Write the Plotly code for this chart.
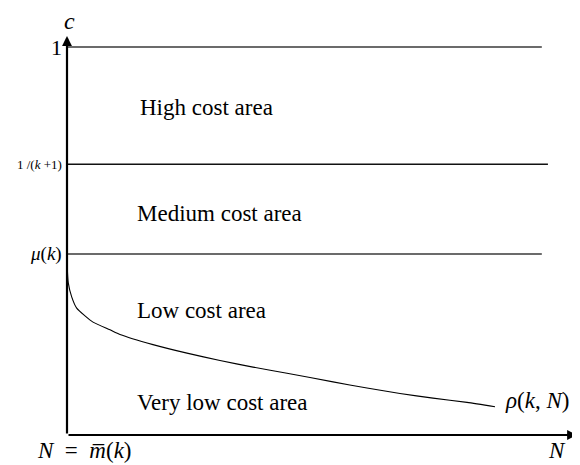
import plotly.graph_objects as go

# ---- data ----
curve_N = [0, 0.025, 0.092, 0.19, 0.353, 0.51, 0.843, 1.039, 1.686, 2.353, 3.0, 3.647,
           4.314, 5.216, 5.882, 6.529, 7.176, 7.843, 8.392]
curve_c = [0.446, 0.392, 0.356, 0.327, 0.307, 0.291, 0.271, 0.259, 0.233, 0.211, 0.192, 0.175,
           0.159, 0.137, 0.121, 0.107, 0.095, 0.084, 0.073]

level_values = [1.0, 0.698, 0.4665]
level_ends = [9.31, 9.43, 9.31]
level_colors = ["#3a3a3a", "#111111", "#3a3a3a"]
level_labels = ["1", "1 /(<i>k</i> +1)", "<i>μ</i>(<i>k</i>)"]
level_label_sizes = [22, 13, 19]

area_labels = ["High cost area", "Medium cost area", "Low cost area", "Very low cost area"]
area_x = [1.39, 1.33, 1.33, 1.33]
area_y = [0.843, 0.57, 0.322, 0.085]

x_max = 10.0
y_max = 1.0284

serif = "Liberation Serif"

fig = go.Figure()

for v, e, col in zip(level_values, level_ends, level_colors):
    fig.add_trace(go.Scatter(x=[0, e], y=[v, v], mode="lines",
                             line=dict(color=col, width=1.5),
                             hoverinfo="skip", showlegend=False))

fig.add_trace(go.Scatter(x=curve_N, y=curve_c, mode="lines",
                         line=dict(color="black", width=1.1, shape="spline", smoothing=0.6),
                         hoverinfo="skip", showlegend=False))

annotations = []
annotations.append(dict(x=0, y=y_max, ax=0, ay=0, xref="x", yref="y", axref="x", ayref="y",
                        text="", showarrow=True, arrowhead=2, arrowsize=0.9, arrowwidth=2.2,
                        arrowcolor="black"))
annotations.append(dict(x=x_max, y=0, ax=0, ay=0, xref="x", yref="y", axref="x", ayref="y",
                        text="", showarrow=True, arrowhead=2, arrowsize=0.9, arrowwidth=2.2,
                        arrowcolor="black"))
annotations.append(dict(x=-1.17, y=0.005, ax=-1.35, ay=0.005, xref="x", yref="y", axref="x", ayref="y",
                        text="", showarrow=True, arrowhead=2, arrowsize=0.8, arrowwidth=1.6,
                        arrowcolor="black"))

for v, lab, s in zip(level_values, level_labels, level_label_sizes):
    annotations.append(dict(x=0, y=v, xref="x", yref="y", text=lab, showarrow=False,
                            xanchor="right", yanchor="middle", xshift=-3,
                            font=dict(family=serif, size=s, color="black")))

for lab, ax_, ay_ in zip(area_labels, area_x, area_y):
    annotations.append(dict(x=ax_, y=ay_, xref="x", yref="y", text=lab, showarrow=False,
                            xanchor="left", yanchor="middle",
                            font=dict(family=serif, size=23, color="black")))

annotations.append(dict(x=0, y=1, xref="x", yref="paper", text="<i>c</i>", showarrow=False,
                        xanchor="center", yanchor="bottom", yshift=0, xshift=2,
                        font=dict(family=serif, size=24, color="black")))
annotations.append(dict(x=x_max, y=0, xref="x", yref="y", text="<i>N</i>", showarrow=False,
                        xanchor="right", yanchor="top", xshift=-9, yshift=-1,
                        font=dict(family=serif, size=23, color="black")))
annotations.append(dict(x=0, y=0, xref="x", yref="y",
                        text="<i>N</i>&#160;&#160;=&#160;&#160;<i>m\u0305</i>(<i>k</i>)",
                        showarrow=False, xanchor="center", yanchor="top", xshift=17, yshift=-1,
                        font=dict(family=serif, size=23, color="black")))
annotations.append(dict(x=curve_N[-1], y=curve_c[-1], xref="x", yref="y",
                        text="<i>ρ</i>(<i>k</i>,&#160;<i>N</i>)", showarrow=False,
                        xanchor="left", yanchor="middle", xshift=8, yshift=6,
                        font=dict(family=serif, size=23, color="black")))

# page body has an 8px margin: shrink the figure accordingly
fig.update_layout(
    width=572, height=457,
    margin=dict(l=59, r=3, t=28, b=30),
    paper_bgcolor="white", plot_bgcolor="white",
    font=dict(family=serif),
    xaxis=dict(range=[0, x_max], visible=False, fixedrange=True),
    yaxis=dict(range=[0, y_max], visible=False, fixedrange=True),
    annotations=annotations,
    showlegend=False,
)

fig.write_html("out.html")
